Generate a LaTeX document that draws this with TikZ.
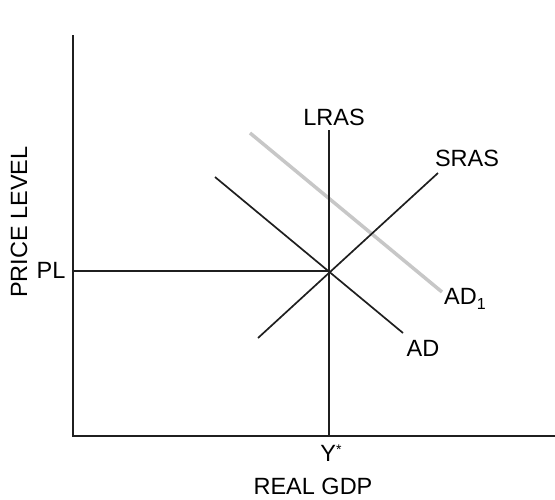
\documentclass[tikz,border=0pt]{standalone}
\usepackage{fontspec}
\setmainfont{Liberation Sans}
\begin{document}
\begin{tikzpicture}[x=1pt,y=-1pt,
  lbl/.style={font=\fontsize{23.5}{25}\selectfont, inner sep=0pt},
  curve/.style={line width=1.7pt, black!88},
  ghost/.style={line width=3.5pt, black!22}]
\useasboundingbox (0,0) rectangle (555,499);
\coordinate (O) at (73,436);
\coordinate (T) at (73,35);
\coordinate (R) at (555,436);
\coordinate (E) at (329,271);
\coordinate (PLs) at (73,271);
\coordinate (LRt) at (329,130);
\coordinate (Yb) at (329,436);
\coordinate (S1) at (258,338);
\coordinate (S2) at (438,173);
\coordinate (A1) at (215,177);
\coordinate (A2) at (403,333);
\coordinate (B1) at (250,133);
\coordinate (B2) at (442,292);
\draw[ghost] (B1) -- (B2);
\draw[curve] (T) -- (O) -- (R);
\draw[curve] (PLs) -- (E);
\draw[curve] (LRt) -- (Yb);
\draw[curve] (S1) -- (S2);
\draw[curve] (A1) -- (A2);
\node[lbl] (lras) at (334,117) {LRAS};
\node[lbl] (sras) at (467,158) {SRAS};
\node[lbl, anchor=west] (ad1) at (444,299) {AD\raisebox{-0.35ex}{\fontsize{16}{17}\selectfont 1}};
\node[lbl] (ad) at (423,348) {AD};
\node[lbl] (pl) at (51,270) {PL};
\node[lbl] (ys) at (331,453) {Y\raisebox{0.6ex}{\fontsize{14}{15}\selectfont *}};
\node[lbl] (gdp) at (313,486) {REAL GDP};
\node[lbl, rotate=90] (price) at (19,222) {PRICE LEVEL};
\end{tikzpicture}
\end{document}
